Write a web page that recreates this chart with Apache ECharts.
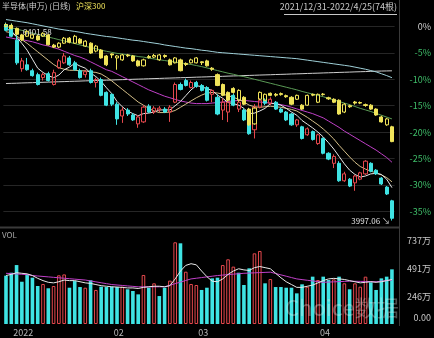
<!DOCTYPE html>
<html><head><meta charset="utf-8">
<script src="https://cdn.jsdelivr.net/npm/echarts@6/dist/echarts.min.js"></script>
<style>html,body{margin:0;padding:0;background:#000;}#c{width:434px;height:338px;}</style>
</head><body><div id="c"></div>
<script>
const dates = ['2021-12-31',
'2022-01-04','2022-01-05','2022-01-06','2022-01-07','2022-01-10','2022-01-11','2022-01-12','2022-01-13','2022-01-14','2022-01-17','2022-01-18','2022-01-19','2022-01-20','2022-01-21','2022-01-24','2022-01-25','2022-01-26','2022-01-27','2022-01-28',
'2022-02-07','2022-02-08','2022-02-09','2022-02-10','2022-02-11','2022-02-14','2022-02-15','2022-02-16','2022-02-17','2022-02-18','2022-02-21','2022-02-22','2022-02-23','2022-02-24','2022-02-25','2022-02-28',
'2022-03-01','2022-03-02','2022-03-03','2022-03-04','2022-03-07','2022-03-08','2022-03-09','2022-03-10','2022-03-11','2022-03-14','2022-03-15','2022-03-16','2022-03-17','2022-03-18','2022-03-21','2022-03-22','2022-03-23','2022-03-24','2022-03-25','2022-03-28','2022-03-29','2022-03-30','2022-03-31',
'2022-04-01','2022-04-06','2022-04-07','2022-04-08','2022-04-11','2022-04-12','2022-04-13','2022-04-14','2022-04-15','2022-04-18','2022-04-19','2022-04-20','2022-04-21','2022-04-22','2022-04-25'];
const tickIdx = [1, 20, 36, 59];
const tickText = ['2022', '02', '03', '04'];

// 半导体(申万) candles, % change vs 2021/12/31
const semiOpen  = [0.37,0.19,-2.61,-8.0,-7.26,-8.38,-9.12,-9.68,-8.94,-10.99,-7.82,-6.89,-5.96,-6.89,-8.38,-9.12,-8.38,-10.61,-10.06,-12.48,-12.85,-14.71,-16.95,-15.83,-16.76,-18.44,-18.06,-15.08,-16.2,-15.83,-15.64,-16.2,-14.34,-10.99,-10.24,-11.55,-10.6,-11.17,-11.55,-12.85,-13.41,-15.83,-16.2,-13.04,-15.64,-15.83,-18.44,-19.55,-15.27,-13.97,-14.53,-14.34,-15.64,-16.2,-16.57,-18.62,-18.99,-20.5,-19.9,-22.16,-21.2,-24.0,-25.9,-25.9,-29.2,-28.9,-29.6,-28.9,-27.9,-25.9,-27.2,-28.7,-30.4,-33.0];
const semiClose = [-0.74,-1.86,-6.89,-6.52,-8.19,-9.31,-10.99,-9.12,-10.24,-8.75,-6.52,-5.59,-7.26,-8.19,-9.68,-8.57,-10.61,-10.06,-13.04,-14.9,-14.71,-17.5,-15.83,-16.57,-17.69,-17.13,-15.27,-16.2,-15.46,-15.46,-16.2,-15.27,-10.99,-11.92,-11.17,-10.61,-11.36,-12.1,-13.97,-12.1,-16.57,-14.34,-14.34,-14.9,-14.34,-17.69,-20.3,-15.27,-13.97,-14.53,-13.78,-15.64,-16.2,-17.69,-18.62,-17.69,-21.2,-19.37,-21.4,-20.5,-24.0,-25.1,-24.6,-29.2,-27.9,-30.2,-28.3,-27.7,-25.5,-27.4,-27.9,-29.8,-31.7,-36.3];
const semiLow   = [-0.93,-2.05,-7.26,-8.57,-8.38,-9.5,-11.17,-10.24,-10.43,-11.17,-8.0,-7.08,-7.45,-8.38,-9.87,-9.68,-10.8,-11.55,-13.22,-15.08,-15.08,-18.62,-18.25,-16.95,-17.88,-19.18,-18.25,-16.39,-16.57,-16.2,-16.39,-18.06,-14.53,-12.1,-11.36,-11.73,-11.6,-12.3,-14.2,-14.34,-16.8,-17.7,-18.1,-15.1,-16.2,-17.9,-20.5,-21.2,-15.5,-14.9,-14.9,-15.8,-16.4,-17.9,-18.8,-19.0,-21.4,-20.7,-21.6,-22.4,-24.2,-25.3,-26.8,-29.4,-29.4,-30.4,-31.1,-29.1,-28.1,-27.6,-28.1,-30.0,-31.9,-36.73];
const semiHigh  = [0.74,0.56,-1.49,-5.96,-5.96,-8.0,-8.75,-8.75,-8.57,-8.19,-6.15,-5.03,-5.59,-6.52,-8.0,-8.19,-8.0,-9.68,-9.68,-12.29,-12.66,-14.34,-15.27,-15.46,-16.39,-16.76,-14.9,-14.71,-15.08,-15.08,-15.27,-14.9,-10.61,-10.61,-9.87,-10.24,-10.3,-10.9,-11.3,-11.9,-12.85,-13.6,-13.6,-12.7,-14.0,-15.5,-18.1,-14.7,-13.6,-13.6,-13.4,-14.1,-15.4,-16.0,-16.4,-17.5,-18.8,-19.1,-19.7,-20.3,-21.0,-23.8,-24.2,-25.5,-27.5,-28.7,-28.1,-27.5,-25.3,-25.7,-27.0,-28.5,-30.2,-32.8];

// 沪深300 candles, % change vs 2021/12/31
const hsOpen  = [0,0.19,-0.37,-1.6,-1.86,-2.23,-1.8,-1.86,-1.6,-3.54,-3.91,-3.17,-2.23,-3.17,-2.42,-3.72,-3.17,-4.66,-4.47,-5.59,-5.2,-5.96,-6.33,-5.4,-5.59,-6.52,-7.45,-5.7,-5.8,-6.33,-5.5,-6.33,-6.89,-6.33,-7.0,-6.89,-6.89,-6.7,-6.52,-7.9,-9.12,-10.99,-12.48,-11.73,-13.97,-13.41,-15.64,-18.44,-13.78,-13.97,-12.66,-12.85,-12.9,-13.1,-13.41,-13.78,-14.9,-14.9,-12.85,-14.34,-12.9,-13.5,-13.78,-13.97,-16.2,-15.0,-14.3,-14.4,-14.8,-14.9,-15.64,-17.13,-18.62,-18.99];
const hsClose = [0.37,-0.37,-1.49,-2.55,-0.93,-1.6,-2.55,-1.3,-3.48,-3.91,-3.17,-2.23,-2.98,-1.86,-3.17,-2.79,-5.03,-3.72,-5.96,-7.26,-5.4,-5.59,-5.4,-5.55,-6.52,-7.45,-6.33,-5.9,-5.5,-5.4,-5.7,-7.26,-5.96,-8.38,-7.2,-6.33,-5.96,-6.85,-7.45,-8.1,-11.17,-13.04,-13.97,-12.48,-12.1,-14.71,-18.62,-15.46,-12.48,-12.85,-13.04,-13.0,-12.7,-13.3,-14.71,-13.04,-15.64,-13.04,-13.0,-12.85,-12.8,-13.7,-14.34,-16.57,-14.71,-15.2,-14.5,-14.5,-14.95,-15.64,-16.76,-18.06,-17.5,-21.79];
const hsLow   = [-0.2,-0.6,-1.7,-2.8,-2.0,-2.4,-2.7,-2.0,-3.6,-4.1,-4.1,-3.3,-3.2,-3.3,-3.3,-3.9,-5.2,-4.9,-6.1,-7.5,-6.0,-8.19,-6.5,-5.8,-6.7,-7.6,-7.6,-6.1,-6.0,-6.5,-6.0,-7.4,-7.0,-8.5,-7.5,-7.0,-7.0,-7.3,-7.6,-8.4,-11.3,-13.2,-14.2,-12.7,-14.2,-14.9,-18.8,-18.6,-13.9,-14.1,-13.2,-13.3,-13.1,-13.5,-14.9,-13.9,-15.8,-15.0,-13.2,-14.5,-13.1,-13.9,-14.5,-16.7,-16.4,-15.4,-14.8,-14.7,-15.2,-15.8,-16.9,-18.2,-18.8,-21.9];
const hsHigh  = [0.6,0.5,-0.2,-1.4,-0.7,-1.4,-1.6,-1.1,-1.4,-3.3,-3.0,-2.0,-2.0,-1.6,-2.2,-2.6,-3.0,-3.5,-4.3,-5.4,-5.1,-5.4,-5.2,-5.2,-5.4,-6.3,-6.1,-5.4,-5.2,-5.2,-5.3,-6.1,-5.8,-6.1,-6.8,-6.1,-5.8,-6.6,-6.3,-7.7,-8.9,-10.8,-12.3,-11.5,-11.9,-13.2,-15.4,-15.3,-12.3,-12.7,-12.5,-12.6,-12.5,-12.9,-13.2,-12.9,-14.7,-12.9,-12.7,-12.7,-12.6,-13.3,-13.6,-13.8,-14.5,-14.8,-14.1,-14.2,-14.6,-14.7,-15.5,-16.9,-17.3,-18.8];

// moving averages of 半导体 (%)
const ma5   = [-0.5,-0.8,-2.0,-3.2,-4.5,-6.2,-7.9,-8.7,-9.3,-9.7,-9.2,-8.2,-7.7,-7.0,-7.5,-7.9,-8.8,-9.5,-10.4,-11.6,-12.7,-14.2,-15.2,-16.0,-16.5,-16.9,-16.5,-16.4,-16.2,-15.8,-15.8,-15.8,-15.0,-14.2,-13.1,-12.0,-11.2,-11.4,-11.8,-12.1,-13.0,-13.6,-14.4,-14.6,-14.9,-15.5,-16.5,-16.4,-16.0,-15.5,-14.6,-14.6,-14.9,-15.5,-16.2,-16.8,-17.8,-18.5,-19.2,-20.0,-20.9,-22.0,-23.2,-24.6,-26.0,-27.2,-28.0,-28.5,-28.3,-27.9,-27.8,-28.0,-28.9,-30.5];
const ma10  = [-1.0,-1.2,-1.8,-2.5,-3.2,-4.0,-4.8,-5.6,-6.4,-7.2,-7.8,-8.1,-8.3,-8.3,-8.4,-8.4,-8.6,-8.7,-9.0,-9.6,-10.3,-11.1,-11.9,-12.7,-13.5,-14.3,-14.9,-15.5,-16.0,-16.3,-16.3,-16.2,-15.9,-15.3,-14.7,-14.1,-13.5,-13.0,-12.6,-12.5,-12.6,-12.8,-13.1,-13.4,-13.8,-14.3,-14.9,-15.2,-15.3,-15.2,-15.1,-15.2,-15.3,-15.5,-15.7,-16.0,-16.6,-17.2,-17.9,-18.6,-19.4,-20.3,-21.3,-22.5,-23.6,-24.7,-25.7,-26.5,-27.0,-27.4,-27.7,-28.1,-28.6,-29.4];
const ma20  = [-2.0,-2.2,-2.4,-2.5,-2.7,-2.9,-3.2,-3.5,-3.7,-4.0,-4.3,-4.7,-5.1,-5.5,-5.8,-6.2,-6.7,-7.2,-7.7,-8.2,-8.5,-9.0,-9.5,-10.0,-10.5,-11.0,-11.5,-12.0,-12.4,-12.8,-13.2,-13.5,-13.8,-14.1,-14.3,-14.5,-14.6,-14.6,-14.6,-14.5,-14.4,-14.3,-14.2,-14.1,-14.0,-14.0,-14.1,-14.2,-14.3,-14.4,-14.5,-14.6,-14.8,-15.0,-15.3,-15.6,-15.9,-16.2,-16.5,-16.9,-17.3,-17.9,-18.5,-19.1,-19.8,-20.4,-21.0,-21.6,-22.2,-22.8,-23.4,-24.1,-24.8,-25.7];
const ma60  = [0.0,-0.25,-0.5,-0.75,-1.0,-1.25,-1.5,-1.75,-2.0,-2.25,-2.5,-2.75,-3.0,-3.25,-3.5,-3.75,-4.0,-4.2,-4.5,-4.7,-4.9,-5.1,-5.2,-5.4,-5.5,-5.7,-5.8,-6.0,-6.15,-6.3,-6.45,-6.6,-6.75,-6.9,-7.05,-7.2,-7.4,-7.6,-7.85,-8.1,-8.35,-8.6,-8.85,-9.05,-9.3,-9.5,-9.75,-10.0,-10.25,-10.5,-10.75,-11.0,-11.25,-11.5,-11.75,-12.0,-12.3,-12.55,-12.8,-13.05,-13.3,-13.6,-13.9,-14.2,-14.5,-14.8,-15.15,-15.5,-15.8,-16.1,-16.45,-16.8,-17.15,-17.5];
const ma120 = [1.3,1.15,1.0,0.85,0.7,0.5,0.3,0.1,-0.1,-0.3,-0.5,-0.65,-0.8,-0.95,-1.1,-1.3,-1.45,-1.6,-1.75,-1.9,-2.0,-2.15,-2.3,-2.45,-2.6,-2.7,-2.85,-3.0,-3.15,-3.3,-3.5,-3.65,-3.8,-3.95,-4.1,-4.2,-4.35,-4.5,-4.6,-4.75,-4.9,-4.98,-5.06,-5.14,-5.22,-5.3,-5.38,-5.46,-5.54,-5.62,-5.7,-5.78,-5.86,-5.94,-6.02,-6.1,-6.24,-6.38,-6.52,-6.66,-6.8,-6.94,-7.08,-7.22,-7.36,-7.5,-7.7,-7.9,-8.1,-8.35,-8.6,-8.95,-9.3,-9.7];
const ma250 = [-10.8,-10.77,-10.74,-10.7,-10.67,-10.64,-10.6,-10.57,-10.54,-10.5,-10.47,-10.44,-10.4,-10.37,-10.34,-10.3,-10.27,-10.24,-10.2,-10.17,-10.14,-10.1,-10.07,-10.04,-10.0,-9.97,-9.94,-9.9,-9.87,-9.84,-9.8,-9.77,-9.74,-9.7,-9.67,-9.64,-9.6,-9.57,-9.54,-9.5,-9.47,-9.44,-9.4,-9.37,-9.34,-9.3,-9.27,-9.24,-9.2,-9.17,-9.14,-9.1,-9.07,-9.04,-9.0,-8.97,-8.94,-8.9,-8.87,-8.84,-8.8,-8.77,-8.74,-8.7,-8.67,-8.64,-8.6,-8.57,-8.54,-8.5,-8.47,-8.44,-8.42,-8.4];

// volume of 半导体 (万) and its bar colour as seen (1 = up, hollow red; 0 = down, cyan)
const vol = [429,455,523,375,441,411,337,355,317,337,432,440,322,381,328,322,388,302,331,328,331,328,331,308,293,263,435,322,361,248,322,385,725,716,464,355,346,302,322,405,411,523,574,509,455,346,494,627,648,361,399,328,328,322,322,272,352,331,420,390,420,390,396,420,361,308,361,331,420,370,302,405,420,485];
const volUp = [0,0,0,0,0,0,0,1,0,1,1,1,0,0,0,1,0,1,0,0,0,0,1,0,0,0,1,0,1,0,0,1,1,0,1,1,1,0,0,0,0,1,1,1,0,0,0,1,1,0,1,0,0,0,0,0,0,1,0,1,0,0,1,0,1,0,1,1,1,0,0,0,0,0];
const volMa5  = [430,440,455,450,445,430,405,385,370,365,375,390,385,385,375,365,360,350,340,335,330,328,325,320,320,315,325,330,335,335,330,340,400,470,520,535,525,470,420,380,375,400,440,470,490,480,475,500,510,500,490,450,410,375,350,325,325,335,345,365,385,400,405,400,395,385,375,365,370,375,370,375,385,395];
const volMa10 = [450,447,444,441,438,430,426,422,418,414,410,406,402,398,394,390,382,374,366,358,350,346,342,338,334,330,330,330,330,330,330,344,358,372,386,400,406,412,418,424,430,434,438,442,446,450,452,454,456,458,460,448,436,424,412,400,394,388,382,376,370,372,374,376,378,380,379,378,377,376,375,380,385,390];

const lowLabel = '3997.06';
const highLabel = '6401.58';

const RED = '#e5484d', CYAN = '#3fe3e3', YEL = '#f0e45a';
const FONT = 'Noto Sans CJK SC';

const semiData = semiOpen.map((o, i) => [o, semiClose[i], semiLow[i], semiHigh[i]]);
const hsData = hsOpen.map((o, i) => [o, hsClose[i], hsLow[i], hsHigh[i]]);
const volData = vol.map((v, i) => ({
  value: v,
  itemStyle: volUp[i]
    ? { color: 'rgba(0,0,0,0)', borderColor: RED, borderWidth: 1 }
    : { color: CYAN }
}));
let minIdx = 0;
semiLow.forEach((v, i) => { if (v < semiLow[minIdx]) minIdx = i; });

function lineS(name, data, color, xi, yi) {
  return { name, type: 'line', data, xAxisIndex: xi, yAxisIndex: yi, symbol: 'none',
    lineStyle: { color, width: 1 }, silent: true, z: 3 };
}

const chart = echarts.init(document.getElementById('c'));
chart.setOption({
  backgroundColor: '#000',
  animation: false,
  textStyle: { fontFamily: FONT },
  grid: [
    { left: 3.35, right: 38.4, top: -3.86, height: 241.7 },
    { left: 3.35, right: 38.4, top: 228, height: 96 }
  ],
  xAxis: [
    { type: 'category', data: dates, gridIndex: 0, boundaryGap: true, show: false },
    { type: 'category', data: dates, gridIndex: 1, boundaryGap: true,
      axisLine: { show: false }, axisTick: { show: false }, splitLine: { show: false },
      axisLabel: {
        interval: (idx) => tickIdx.indexOf(idx) >= 0,
        formatter: (val, idx) => tickText[tickIdx.indexOf(idx)] || '',
        align: 'left', padding: [0, 0, 0, 2], color: '#b8b8b8', fontSize: 9, margin: 4, fontFamily: FONT
      } }
  ],
  yAxis: [
    { type: 'value', gridIndex: 0, position: 'right', min: -40, max: 5, interval: 5,
      axisLine: { show: false }, axisTick: { show: false },
      splitLine: { show: true, showMinLine: false, showMaxLine: false, lineStyle: { color: '#262626', width: 1 } },
      axisLabel: { showMinLabel: false, showMaxLabel: false, align: 'right', margin: 36.4, fontSize: 9, fontFamily: FONT,
        formatter: (v) => v + '%', color: (v) => (Number(v) < 0 ? '#3fbf6a' : '#d0d0d0') } },
    { type: 'value', gridIndex: 1, position: 'right', min: 0, max: 851.8, interval: 245.67,
      axisLine: { show: false }, axisTick: { show: false }, splitLine: { show: false },
      axisLabel: { showMaxLabel: false, align: 'right', margin: 36.4, fontSize: 9, color: '#c8c8c8', fontFamily: FONT,
        formatter: (v) => (v === 0 ? '{z|0.00}' : Math.round(v) + '万'),
        rich: { z: { fontSize: 9, color: '#c8c8c8', padding: [0, 0, 12, 0], fontFamily: FONT } } } }
  ],
  series: [
    lineS('MA250', ma250, '#cfcfcf', 0, 0),
    lineS('MA120', ma120, '#9fd0d8', 0, 0),
    lineS('MA60', ma60, '#5a9a55', 0, 0),
    lineS('MA20', ma20, '#c040c8', 0, 0),
    lineS('MA10', ma10, '#d6c08a', 0, 0),
    lineS('MA5', ma5, '#e8e8e8', 0, 0),
    { name: '半导体(申万)', type: 'candlestick', data: semiData, xAxisIndex: 0, yAxisIndex: 0, barWidth: 3.6, z: 4,
      itemStyle: { color: 'rgba(0,0,0,0)', color0: CYAN, borderColor: RED, borderColor0: CYAN, borderWidth: 1 },
      markPoint: { symbol: 'circle', symbolSize: 0, silent: true,
        data: [
          { coord: [minIdx, semiLow[minIdx]], label: { show: true, position: 'left', distance: 2, formatter: lowLabel + ' ↘', color: '#e0e0e0', fontSize: 8, fontFamily: FONT } },
          { coord: [3, -1.0], label: { show: true, position: 'right', distance: 1, formatter: highLabel, color: '#e0e0e0', fontSize: 8, fontFamily: FONT } }
        ] } },
    { name: '沪深300', type: 'candlestick', data: hsData, xAxisIndex: 0, yAxisIndex: 0, barWidth: 3.6, z: 5,
      itemStyle: { color: 'rgba(0,0,0,0)', color0: YEL, borderColor: YEL, borderColor0: YEL, borderWidth: 1 } },
    { name: 'VOL', type: 'bar', data: volData, xAxisIndex: 1, yAxisIndex: 1, barWidth: 3.6 },
    lineS('VMA10', volMa10, '#c040c8', 1, 1),
    lineS('VMA5', volMa5, '#e8e8e8', 1, 1)
  ],
  graphic: [
    { type: 'text', left: 2, top: 2, style: { text: '半导体(申万) (日线)', fill: '#d0d0d0', font: '8px "Noto Sans CJK SC"' } },
    { type: 'text', left: 76, top: 2, style: { text: '沪深300', fill: YEL, font: '8px "Noto Sans CJK SC"' } },
    { type: 'text', right: 37, top: 2, style: { text: '2021/12/31-2022/4/25(74根)', fill: '#c8c8c8', font: '9px "Noto Sans CJK SC"' } },
    { type: 'line', shape: { x1: 284, y1: 14.5, x2: 397, y2: 14.5 }, style: { stroke: '#c8c8c8', lineWidth: 1 } },
    { type: 'line', shape: { x1: 0, y1: 227.5, x2: 400, y2: 227.5 }, style: { stroke: '#3a3a3a', lineWidth: 2 } },
    { type: 'line', shape: { x1: 399.5, y1: 0, x2: 399.5, y2: 326 }, style: { stroke: '#3a3a3a', lineWidth: 1 } },
    { type: 'text', left: 2, top: 231, style: { text: 'VOL', fill: '#a8a8a8', font: '8px "Noto Sans CJK SC"' } },
    { type: 'text', left: 285, top: 297, z: 100, silent: true, style: { text: 'Choice数据', fill: 'rgba(235,235,235,0.32)', font: '22px "Noto Sans CJK SC"' } }
  ]
});
</script>
</body></html>
